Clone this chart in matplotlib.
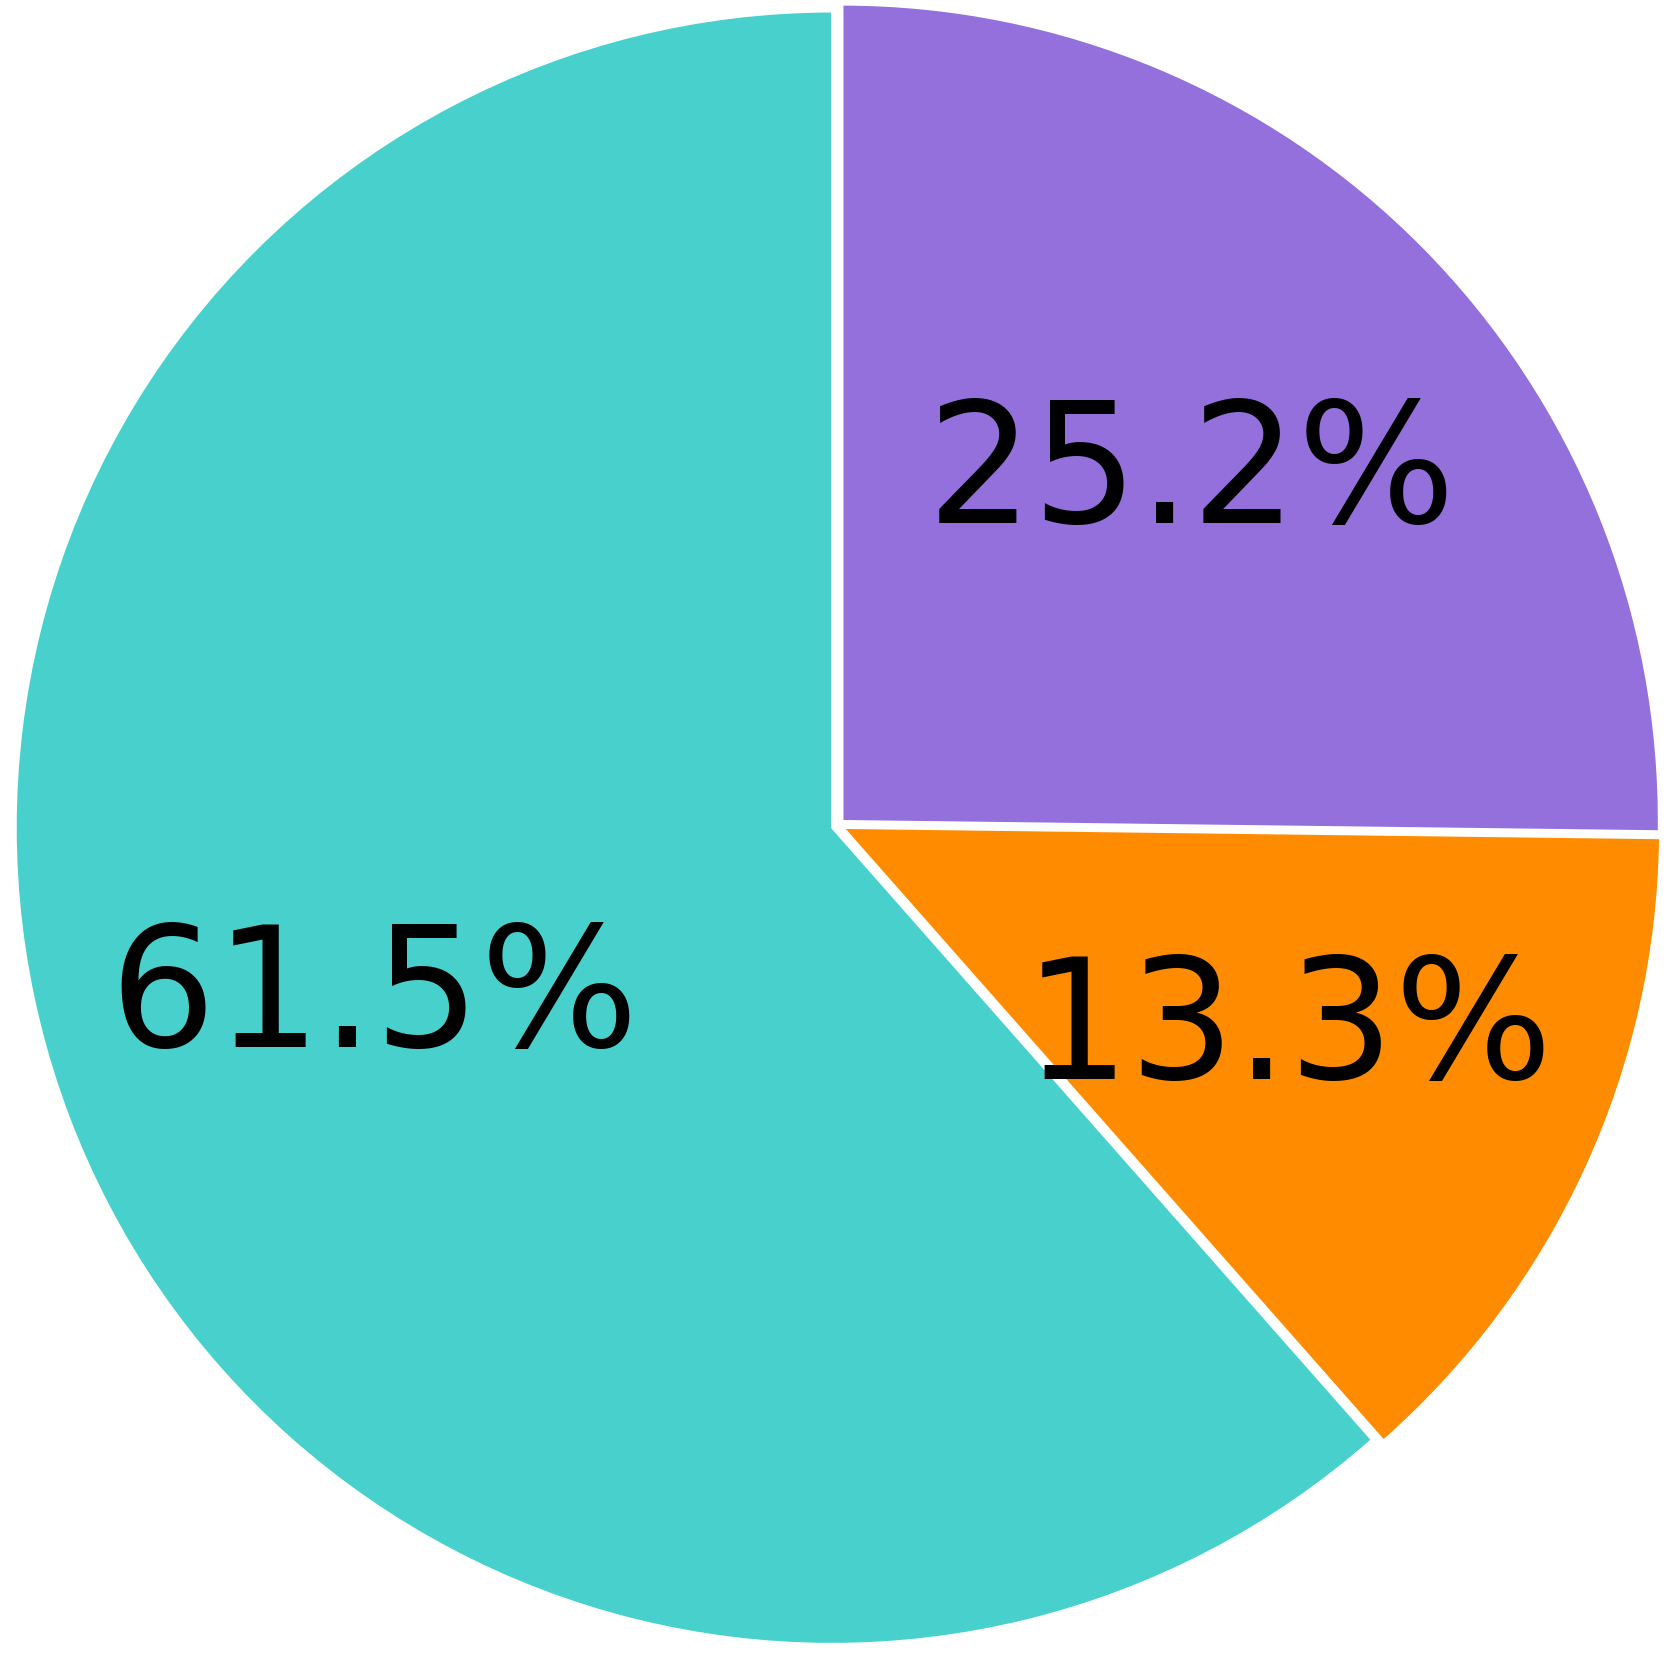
import matplotlib
matplotlib.use("Agg")
import matplotlib.pyplot as plt

shares = [25.2, 13.3, 61.5]
colors = ["#9370DB", "#FF8C00", "#48D1CC"]

W, H, DPI = 1673, 1653, 100
SCALE = 816.0          # pixels per data unit
CX, CY = 838.0, 1653 - 825.4   # pie centre in pixels (from bottom-left)

fig = plt.figure(figsize=(W / DPI, H / DPI), dpi=DPI)
ax = fig.add_axes([0, 0, 1, 1])
ax.pie(shares, colors=colors, startangle=90, counterclock=False,
       explode=[0.008] * len(shares), autopct="%1.1f%%", pctdistance=0.6,
       wedgeprops=dict(edgecolor="white", linewidth=1.2),
       textprops=dict(fontsize=120, color="black"))
ax.set_xlim(-CX / SCALE, (W - CX) / SCALE)
ax.set_ylim(-CY / SCALE, (H - CY) / SCALE)
ax.set_aspect("auto")
ax.axis("off")
fig.savefig("out.png", dpi=DPI)
